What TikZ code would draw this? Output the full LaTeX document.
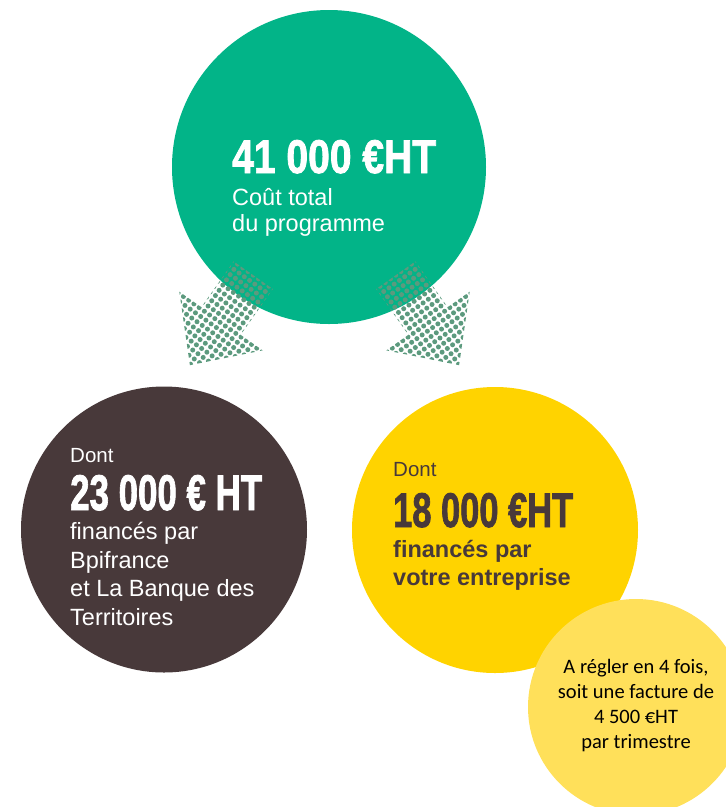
\documentclass[tikz,border=0pt]{standalone}
\usepackage{fontspec}
\setmainfont{Liberation Sans}
\newfontfamily\calibri{Carlito}
\newfontfamily\chiffrefont[FakeBold=1.8]{Liberation Sans Bold}
\usepackage{graphicx}
\usepackage{tikz}
\definecolor{coutvert}{RGB}{2,180,136}
\definecolor{pointvert}{RGB}{92,154,126}
\definecolor{brun}{RGB}{72,57,58}
\definecolor{jaune}{RGB}{255,211,0}
\definecolor{jaunepale}{RGB}{255,224,90}
\newcommand{\chiffre}[3]{\resizebox{#1pt}{#2pt}{\chiffrefont #3}}
\def\dotarrow(#1,#2)(#3,#4){%
  \begin{scope}[shift={(#1,#2)}, x={(#3pt,-#4pt)}, y={(#4pt,#3pt)}]
    \clip (54,0) -- (0,51) -- (0,24) -- (-56,24) -- (-56,-24) -- (0,-24) -- (0,-51) -- cycle;
    \foreach \i in {-56,-49.6,...,56}
      \foreach \j in {-51.2,-44.8,...,52}
        \fill[pointvert] (\i,\j) circle (2.5pt);
  \end{scope}}
\tikzset{
  disc/.style={circle, inner sep=0pt, minimum size=#1},
  txt/.style={inner sep=0pt, anchor=base west}
}

\begin{document}
\begin{tikzpicture}[x=1pt, y=-1pt]
		%%%%% START %%%%%
		\useasboundingbox (0,0) rectangle (726,807);
		\clip (0,0) rectangle (726,807);
		
		\node[disc=314pt, fill=coutvert] (cout) at (329,167) {};
		\dotarrow(221,321)(-0.576,0.818)
		\dotarrow(428,321)(0.576,0.818)
		
		\node[disc=286pt, fill=brun] (aide) at (164,529.5) {};
		\node[disc=286pt, fill=jaune] (part) at (495,530) {};
		\node[disc=216pt, fill=jaunepale] (trim) at (636,707) {};
		
		% lignes multiples : ancre sur la derniere ligne
		\node[txt, text=white] (coutmontant) at (232,173) {\chiffre{204}{33}{41 000 €HT}};
		\node[txt, text=white, align=left, font=\fontsize{23.5}{26}\selectfont] (coutlib) at (232,231) {Coût total\\du programme};
		
		\node[txt, text=white, font=\fontsize{20.5}{24}\selectfont] (aidedont) at (70,462) {Dont};
		\node[txt, text=white] (aidemontant) at (70,510) {\chiffre{192}{35}{23 000 € HT}};
		\node[txt, text=white, align=left, font=\fontsize{23.5}{28.5}\selectfont] (aidelib) at (70,625) {financés par\\Bpifrance\\et La Banque des\\Territoires};
		
		\node[txt, text=brun, font=\fontsize{20.5}{24}\selectfont] (partdont) at (393,476) {Dont};
		\node[txt, text=brun] (partmontant) at (393,527) {\chiffre{180}{34}{18 000 €HT}};
		\node[txt, text=brun, align=left, font=\fontsize{23.5}{28}\selectfont\bfseries] (partlib) at (393,585) {financés par\\votre entreprise};
		
		\node[inner sep=0pt, anchor=base, align=center, font=\calibri\fontsize{20.5}{25}\selectfont] (trimlib) at (636,748) {A régler en 4 fois,\\soit une facture de\\4 500 €HT\\par trimestre};
		
		%%%%% END %%%%%
\end{tikzpicture}
\end{document}
